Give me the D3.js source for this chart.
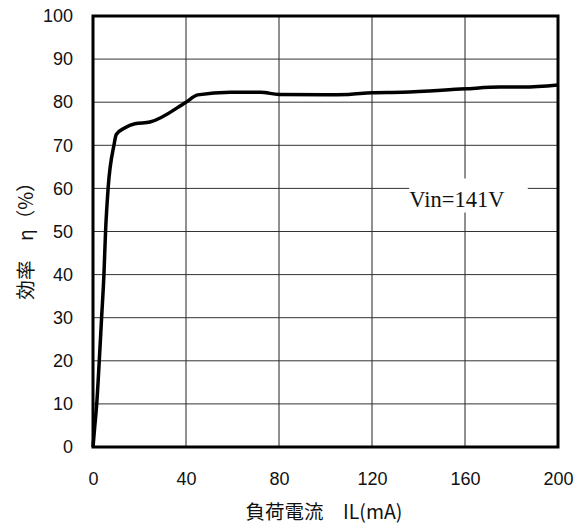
<!DOCTYPE html>
<html>
<head>
<meta charset="utf-8">
<script src="https://cdn.jsdelivr.net/npm/d3@7"></script>
<style>
body { margin: 0; background: #fff; }
</style>
</head>
<body>
<div id="chart"></div>
<script>
const WIDTH = 587, HEIGHT = 526;
const margin = { top: 16, right: 29, bottom: 79, left: 93 };

const currentMA = [0, 0.8, 1.6, 2.7, 3.7, 4.7, 5.4, 6.5, 9.0, 10.0, 13.6, 18, 24.5, 40, 45, 59, 72, 80, 100, 110, 120, 133, 160, 175, 185, 200];
const efficiency = [0, 5, 10, 20, 30, 40, 50, 60, 70, 72.5, 74, 75, 75.4, 80, 81.7, 82.3, 82.3, 81.8, 81.7, 81.8, 82.2, 82.3, 83.1, 83.5, 83.5, 84];
const xTicks = [0, 40, 80, 120, 160, 200];
const yTicks = [0, 10, 20, 30, 40, 50, 60, 70, 80, 90, 100];
const noteText = "Vin=141V";
const xTitle = "負荷電流　IL(mA)";
const yTitle = "効率　η（%）";

const w = WIDTH - margin.left - margin.right;
const h = HEIGHT - margin.top - margin.bottom;

const svg = d3.select("#chart")
    .append("svg")
    .attr("width", WIDTH)
    .attr("height", HEIGHT)

const g = svg.append("g").attr("transform", `translate(${margin.left},${margin.top})`)

const x = d3.scaleLinear().domain([0, 200]).range([0, w])
const y = d3.scaleLinear().domain([0, 100]).range([h, 0])

// grid
g.append("g")
    .selectAll("line")
    .data(xTicks.slice(1, -1))
    .enter().append("line")
    .attr("x1", d => x(d)).attr("x2", d => x(d))
    .attr("y1", 0).attr("y2", h)
    .attr("stroke", "#222").attr("stroke-width", 1)
g.append("g")
    .selectAll("line")
    .data(yTicks.slice(1, -1))
    .enter().append("line")
    .attr("x1", 0).attr("x2", w)
    .attr("y1", d => y(d)).attr("y2", d => y(d))
    .attr("stroke", "#333").attr("stroke-width", 1)

// note box masks the grid
g.append("rect")
    .attr("x", x(136)).attr("y", y(62.3))
    .attr("width", x(187) - x(136)).attr("height", y(54.4) - y(62.3))
    .attr("fill", "#fff")
g.append("text")
    .attr("x", x(156.5)).attr("y", y(55.8))
    .attr("text-anchor", "middle")
    .attr("font-family", "'Liberation Serif', 'Times New Roman', serif")
    .attr("font-size", 22.5)
    .attr("fill", "#111")
    .text(noteText)

// axes (labels only)
const xAxis = g.append("g")
    .attr("transform", `translate(0,${h})`)
    .call(d3.axisBottom(x).tickValues(xTicks).tickSize(0).tickPadding(25))
const yAxis = g.append("g")
    .call(d3.axisLeft(y).tickValues(yTicks).tickSize(0).tickPadding(20))
xAxis.select(".domain").remove()
yAxis.select(".domain").remove()
svg.selectAll(".tick text")
    .attr("font-family", "'Liberation Sans', Arial, sans-serif")
    .attr("font-size", 18)
    .attr("fill", "#111")

// curve
const line = d3.line()
    .x((d, i) => x(currentMA[i]))
    .y(d => y(d))
    .curve(d3.curveMonotoneX)
g.append("path")
    .datum(efficiency)
    .attr("d", line)
    .attr("fill", "none")
    .attr("stroke", "#000")
    .attr("stroke-width", 3.5)
    .attr("stroke-linejoin", "round")

// frame
g.append("rect")
    .attr("x", 0).attr("y", 0)
    .attr("width", w).attr("height", h)
    .attr("fill", "none")
    .attr("stroke", "#000")
    .attr("stroke-width", 3)

// titles
svg.append("text")
    .attr("x", 324)
    .attr("y", 519)
    .attr("text-anchor", "middle")
    .attr("font-family", "'Noto Sans CJK JP', sans-serif")
    .attr("font-size", 19.5)
    .attr("fill", "#111")
    .text(xTitle)
svg.append("text")
    .attr("transform", `translate(33,236) rotate(-90)`)
    .attr("text-anchor", "middle")
    .attr("font-family", "'Noto Sans CJK JP', sans-serif")
    .attr("font-size", 19.5)
    .attr("fill", "#111")
    .text(yTitle)
</script>
</body>
</html>
